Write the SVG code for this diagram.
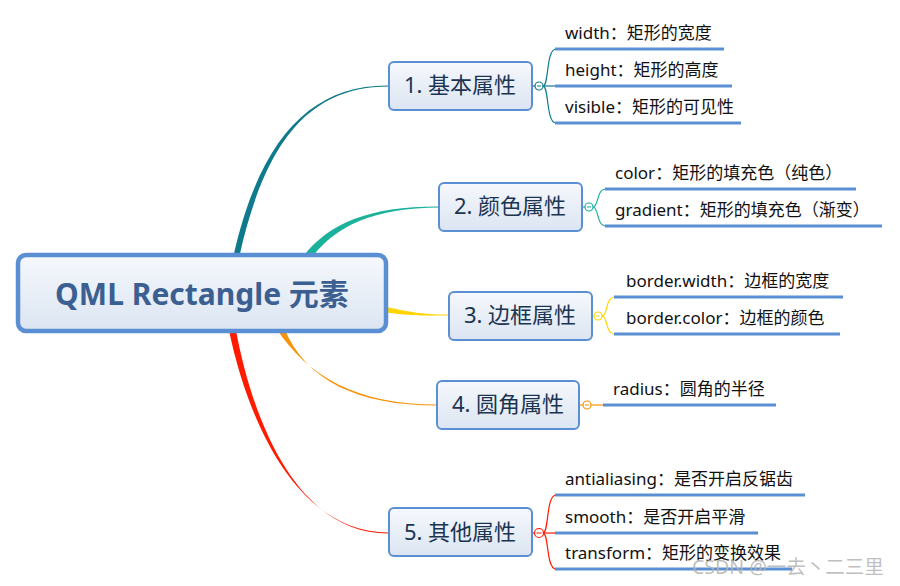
<svg xmlns="http://www.w3.org/2000/svg" width="900" height="586" viewBox="0 0 900 586">
<defs>
<linearGradient id="gNode" x1="0" y1="0" x2="0" y2="1">
<stop offset="0" stop-color="#f6f8fc"/>
<stop offset="1" stop-color="#dbe5f2"/>
</linearGradient>
<style>
.node{fill:url(#gNode);stroke:#5a8fd3;stroke-width:2}
.root{fill:url(#gNode);stroke:#5a8fd3;stroke-width:4.5}
.nt{font-family:"Noto Sans","Noto Sans CJK SC",sans-serif;font-size:22px;fill:#1b3452;text-anchor:middle}
.rt{font-family:"Noto Sans","Noto Sans CJK SC",sans-serif;font-size:30px;font-weight:bold;fill:#3b5f90;text-anchor:middle}
.ct{font-family:"Noto Sans","Noto Sans CJK SC",sans-serif;font-size:17px;fill:#111}
.ul{stroke:#5a8fd3;stroke-width:3;fill:none}
.br{fill:none;stroke-width:1.2}
.dot{fill:#fff;stroke-width:1.2}
.wm{font-family:"Noto Sans","Noto Sans CJK SC",sans-serif;font-size:19.5px;fill:#b4b4b4;fill-opacity:0.85}
</style>
</defs>
<rect width="900" height="586" fill="#fff"/>
<g id="connectors">
<path d="M233 258 C259 140 310 85 388 85.5 L388 86.5 C310 87 265 140 239 258 Z" fill="#0e7a8c"/>
<path d="M302 258 C328 223 370 206 440 206.5 L440 207.5 C370 208 333 228 310 260 Z" fill="#1cb19b"/>
<path d="M380 305.5 C410 312 420 314.5 449 314.5 L449 315.5 C420 315.5 410 316 380 311.5 Z" fill="#ffd400"/>
<path d="M276 328 C308 377 358 404.5 437 404.5 L437 405.5 C358 405.5 306 381 284 328 Z" fill="#f7930a"/>
<path d="M228.5 328 C249 428 300 532.5 388 532.5 L388 533.5 C300 533.5 254 428 235.5 328 Z" fill="#ff1a00"/>
<g stroke="#0e7a8c" class="br">
<path d="M532 86 L535 86"/>
<path d="M543 86 L556 86"/>
<path d="M543 86 C549 86 546 49 556 49"/>
<path d="M543 86 C549 86 546 123 556 123"/>
</g>
<g stroke="#1cb19b" class="br">
<path d="M582 207 L585 207"/>
<path d="M593 207 C599 207 596 189 606 189"/>
<path d="M593 207 C599 207 596 226 606 226"/>
</g>
<g stroke="#ffd400" class="br">
<path d="M592 316 L594 316"/>
<path d="M602 316 C608 316 605 297 615 297"/>
<path d="M602 316 C608 316 605 334 615 334"/>
</g>
<g stroke="#f7930a" class="br">
<path d="M579 405 L583 405"/>
<path d="M591 405 L604 405"/>
</g>
<g stroke="#ff1a00" class="br">
<path d="M532 533 L535 533"/>
<path d="M543 533 L556 533"/>
<path d="M543 533 C549 533 546 495 556 495"/>
<path d="M543 533 C549 533 546 569 556 569"/>
</g>
</g>
<g id="root">
<rect class="root" x="18" y="255" width="368" height="76" rx="8"/>
<text class="rt" x="202" y="305">QML Rectangle 元素</text>
</g>
<g id="n1">
<rect class="node" x="389" y="62" width="143" height="48" rx="5"/>
<text class="nt" x="460" y="93">1. 基本属性</text>
<circle class="dot" stroke="#0e7a8c" cx="539" cy="86" r="4"/>
<path d="M537 86 H541" stroke="#0e7a8c" stroke-width="1"/>
</g>
<g id="n2">
<rect class="node" x="439" y="183" width="143" height="48" rx="5"/>
<text class="nt" x="510" y="214">2. 颜色属性</text>
<circle class="dot" stroke="#1cb19b" cx="589" cy="207" r="4"/>
<path d="M587 207 H591" stroke="#1cb19b" stroke-width="1"/>
</g>
<g id="n3">
<rect class="node" x="449" y="292" width="143" height="48" rx="5"/>
<text class="nt" x="520" y="323">3. 边框属性</text>
<circle class="dot" stroke="#ffd400" cx="598" cy="316" r="4"/>
<path d="M596 316 H600" stroke="#ffd400" stroke-width="1"/>
</g>
<g id="n4">
<rect class="node" x="437" y="381" width="142" height="48" rx="5"/>
<text class="nt" x="508" y="412">4. 圆角属性</text>
<circle class="dot" stroke="#f7930a" cx="587" cy="405" r="4"/>
<path d="M585 405 H589" stroke="#f7930a" stroke-width="1"/>
</g>
<g id="n5">
<rect class="node" x="389" y="508" width="143" height="48" rx="5"/>
<text class="nt" x="460" y="540">5. 其他属性</text>
<circle class="dot" stroke="#ff1a00" cx="539" cy="533" r="4.5"/>
<path d="M536.5 533 H541.5" stroke="#ff1a00" stroke-width="1"/>
</g>
<g id="c1a"><text class="ct" x="565" y="39">width：矩形的宽度</text><path class="ul" d="M555 49 H724"/></g>
<g id="c1b"><text class="ct" x="565" y="76">height：矩形的高度</text><path class="ul" d="M555 86 H732"/></g>
<g id="c1c"><text class="ct" x="565" y="113">visible：矩形的可见性</text><path class="ul" d="M555 123 H741"/></g>
<g id="c2a"><text class="ct" x="615" y="179">color：矩形的填充色（纯色）</text><path class="ul" d="M605 189 H856"/></g>
<g id="c2b"><text class="ct" x="615" y="216">gradient：矩形的填充色（渐变）</text><path class="ul" d="M605 226 H882"/></g>
<g id="c3a"><text class="ct" x="626" y="287">border.width：边框的宽度</text><path class="ul" d="M614 297 H843"/></g>
<g id="c3b"><text class="ct" x="626" y="324">border.color：边框的颜色</text><path class="ul" d="M614 334 H840"/></g>
<g id="c4a"><text class="ct" x="613" y="395">radius：圆角的半径</text><path class="ul" d="M603 405 H776"/></g>
<g id="c5a"><text class="ct" x="565" y="485">antialiasing：是否开启反锯齿</text><path class="ul" d="M555 495 H805"/></g>
<g id="c5b"><text class="ct" x="565" y="523">smooth：是否开启平滑</text><path class="ul" d="M555 533 H758"/></g>
<g id="c5c"><text class="ct" x="565" y="559">transform：矩形的变换效果</text><path class="ul" d="M555 569 H792"/></g>
<text class="wm" x="692" y="574">CSDN @一去丶二三里</text>
</svg>
